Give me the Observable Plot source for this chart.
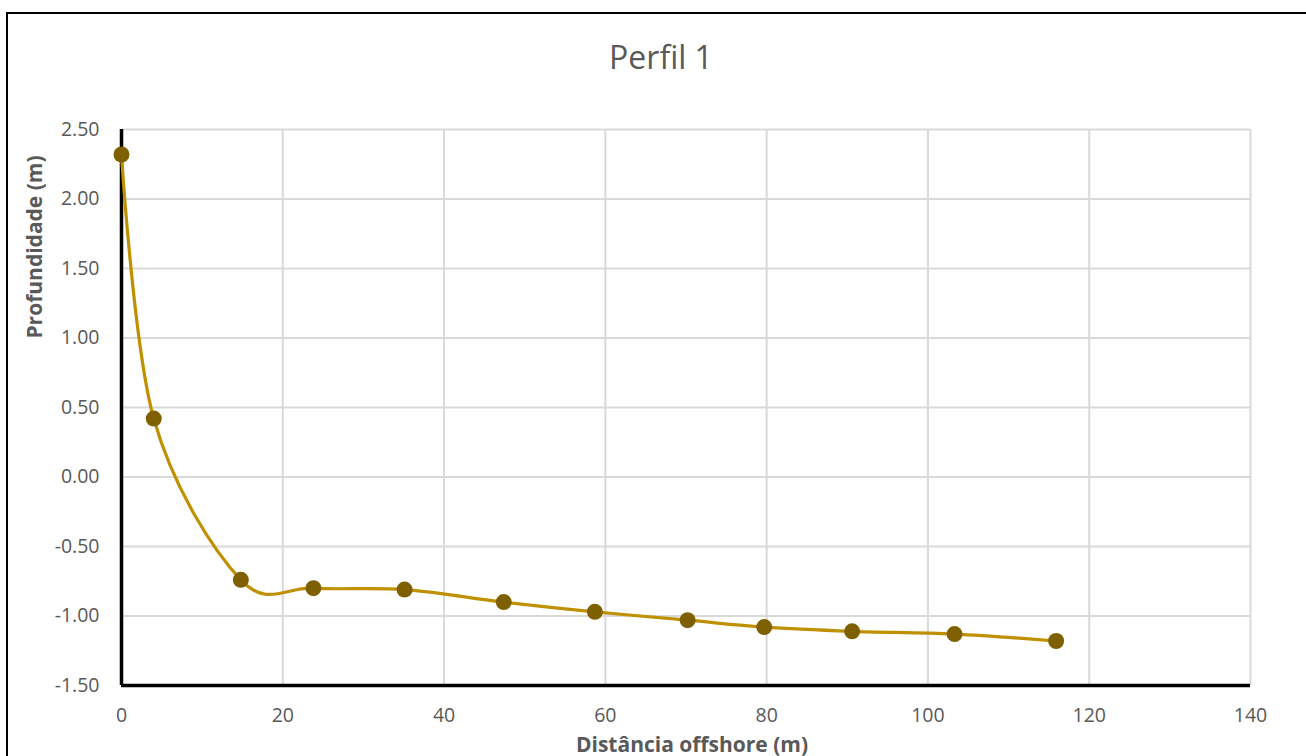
<!DOCTYPE html>
<html>
<head>
<meta charset="utf-8">
<script src="https://cdn.jsdelivr.net/npm/d3@7"></script>
<script src="https://cdn.jsdelivr.net/npm/@observablehq/plot@0.6"></script>
<style>
  html, body { margin: 0; padding: 0; background: #fff; overflow: hidden; }
  #wrap { position: relative; width: 1306px; height: 756px; font-family: "Open Sans", Lato, sans-serif; }
  #frame { position: absolute; left: 6px; top: 12px; width: 1320px; height: 800px; border-left: 2px solid #000; border-top: 2px solid #000; box-sizing: border-box; }
  #title { position: absolute; left: 0; width: 1322px; top: 35px; line-height: 1.362; text-align: center; font-size: 32px; color: #595959; }
  #xlabel { position: absolute; left: 0; width: 1384px; top: 734px; line-height: 1; text-align: center; font-size: 21px; font-weight: bold; color: #595959; }
  #ylabel { position: absolute; left: 34px; top: 247px; line-height: 1.362; transform: translate(-50%, -50%) rotate(-90deg); white-space: nowrap; font-size: 21px; font-weight: bold; color: #595959; }
  #chart { position: absolute; left: 0; top: 0; }
</style>
</head>
<body>
<div id="wrap">
  <div id="chart"></div>
  <div id="frame"></div>
  <div id="title">Perfil 1</div>
  <div id="ylabel">Profundidade (m)</div>
  <div id="xlabel">Distância offshore (m)</div>
</div>
<script>
const distancia = [0, 4.0, 14.8, 23.8, 35.1, 47.4, 58.7, 70.2, 79.7, 90.6, 103.3, 115.9];
const profundidade = [2.32, 0.42, -0.74, -0.80, -0.81, -0.90, -0.97, -1.03, -1.08, -1.11, -1.13, -1.18];
const xTicks = [0, 20, 40, 60, 80, 100, 120, 140];
const yTicks = [-1.5, -1.0, -0.5, 0, 0.5, 1.0, 1.5, 2.0, 2.5];

const data = distancia.map((d, i) => ({x: d, y: profundidade[i]}));

const chart = Plot.plot({
  width: 1306,
  height: 756,
  marginLeft: 121,
  marginRight: 56,
  marginTop: 129,
  marginBottom: 71,
  style: {fontFamily: "'Open Sans', Lato, sans-serif", fontSize: "19px", color: "#595959", background: "transparent"},
  x: {domain: [0, 140], ticks: xTicks, label: null},
  y: {domain: [-1.5, 2.5], ticks: yTicks, label: null},
  marks: [
    Plot.gridX(xTicks, {stroke: "#d9d9d9", strokeOpacity: 1, strokeWidth: 2}),
    Plot.gridY(yTicks, {stroke: "#d9d9d9", strokeOpacity: 1, strokeWidth: 2}),
    Plot.axisX(xTicks, {tickSize: 0, tickPadding: 23, tickFormat: d => String(d), fill: "#595959", fontSize: 19.5}),
    Plot.axisY(yTicks, {tickSize: 0, tickPadding: 22, tickFormat: d => d.toFixed(2), fill: "#595959", fontSize: 19.5}),
    Plot.ruleX([0], {stroke: "#000", strokeWidth: 3.5}),
    Plot.ruleY([-1.5], {stroke: "#000", strokeWidth: 3.5, x1: 0, x2: 140}),
    Plot.line(data, {x: "x", y: "y", curve: "cardinal", stroke: "#BF9000", strokeWidth: 3.2}),
    Plot.dot(data, {x: "x", y: "y", r: 8, fill: "#7F6000", stroke: "none"})
  ]
});
document.getElementById("chart").appendChild(chart);
</script>
</body>
</html>
